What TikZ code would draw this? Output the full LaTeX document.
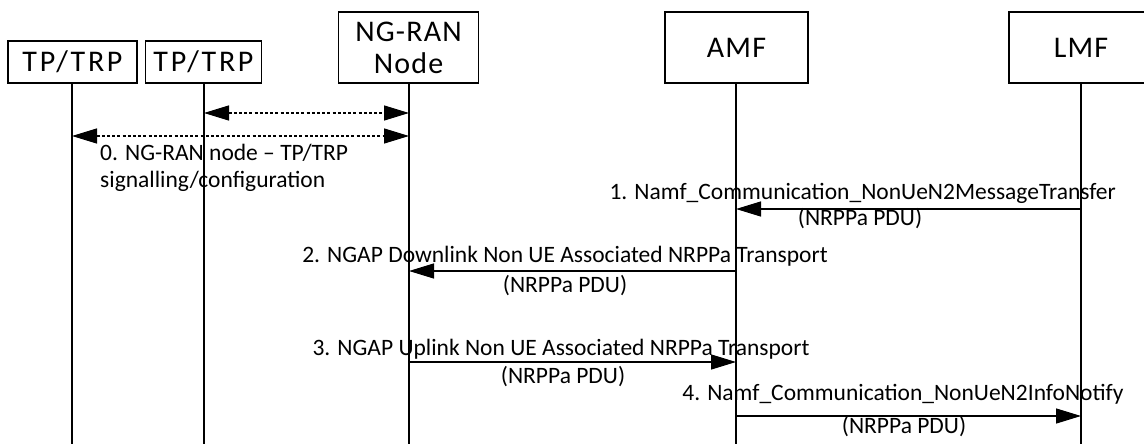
\documentclass[tikz,border=0pt]{standalone}
\usepackage{fontspec}
\setmainfont{Carlito}
\newfontfamily\boxfont[LetterSpace=4]{Carlito}
\newfontfamily\tpfont[LetterSpace=9]{Carlito}
\usetikzlibrary{arrows.meta}
\begin{document}
\begin{tikzpicture}[x=1pt,y=-1pt,
  ent/.style={draw,line width=1.4pt,minimum height=71pt,align=center,font=\boxfont\fontsize{30}{32}\selectfont,inner sep=0pt},
  life/.style={line width=1.6pt},
  msg/.style={line width=1.4pt,-{Triangle[length=25pt,width=15pt]}},
  dmsg/.style={line width=1.4pt,dash pattern=on 3pt off 2.2pt,{Triangle[length=25pt,width=15pt]}-{Triangle[length=25pt,width=15pt]}},
  lbl/.style={font=\fontsize{23.5}{26}\selectfont,inner sep=0pt,anchor=base}]
\useasboundingbox (0,0) rectangle (1144,444);
% entities
\node[ent,minimum width=129pt,minimum height=42pt,font=\tpfont\fontsize{30}{32}\selectfont] (tp1) at (72.5,62) {TP/TRP};
\node[ent,minimum width=116pt,minimum height=42pt,font=\tpfont\fontsize{30}{32}\selectfont] (tp2) at (203.5,62) {TP/TRP};
\node[ent,minimum width=140pt] (ran) at (408.5,47.5) {NG-RAN\\Node};
\node[ent,minimum width=143pt] (amf) at (736.5,47.5) {AMF};
\node[ent,minimum width=144pt] (lmf) at (1081,47.5) {LMF};
% lifeline ends
\coordinate (tp1e) at (72,444);
\coordinate (tp2e) at (204,444);
\coordinate (rane) at (409,444);
\coordinate (amfe) at (736,444);
\coordinate (lmfe) at (1081,444);
\draw[life] (tp1e |- tp1.south) -- (tp1e);
\draw[life] (tp2e |- tp2.south) -- (tp2e);
\draw[life] (rane |- ran.south) -- (rane);
\draw[life] (amfe |- amf.south) -- (amfe);
\draw[life] (lmfe |- lmf.south) -- (lmfe);
% step 0
\coordinate (a0) at (204,113);
\coordinate (b0) at (409,113);
\draw[dmsg] (a0) -- (b0);
\coordinate (a0b) at (72,136);
\coordinate (b0b) at (409,136);
\draw[dmsg] (a0b) -- (b0b);
\node[lbl,anchor=base west] (l0a) at (100,160) {0. NG-RAN node -- TP/TRP};
\node[lbl,anchor=base west] (l0b) at (100,187) {signalling/configuration};
% step 1
\coordinate (a1) at (1081,209);
\coordinate (b1) at (736,209);
\draw[msg] (a1) -- (b1);
\node[lbl,anchor=base east] (l1a) at (1116,199) {1. Namf\_Communication\_NonUeN2MessageTransfer};
\node[lbl] (l1b) at (860,225) {(NRPPa PDU)};
% step 2
\coordinate (a2) at (736,271);
\coordinate (b2) at (409,271);
\draw[msg] (a2) -- (b2);
\node[lbl] (l2a) at (565,262) {2. NGAP Downlink Non UE Associated NRPPa Transport};
\node[lbl] (l2b) at (565,292) {(NRPPa PDU)};
% step 3
\coordinate (a3) at (409,362);
\coordinate (b3) at (736,362);
\draw[msg] (a3) -- (b3);
\node[lbl] (l3a) at (561,355) {3. NGAP Uplink Non UE Associated NRPPa Transport};
\node[lbl] (l3b) at (563,383) {(NRPPa PDU)};
% step 4
\coordinate (a4) at (736,416);
\coordinate (b4) at (1081,416);
\draw[msg] (a4) -- (b4);
\node[lbl] (l4a) at (903,400) {4. Namf\_Communication\_NonUeN2InfoNotify};
\node[lbl] (l4b) at (904,433) {(NRPPa PDU)};
\end{tikzpicture}
\end{document}
